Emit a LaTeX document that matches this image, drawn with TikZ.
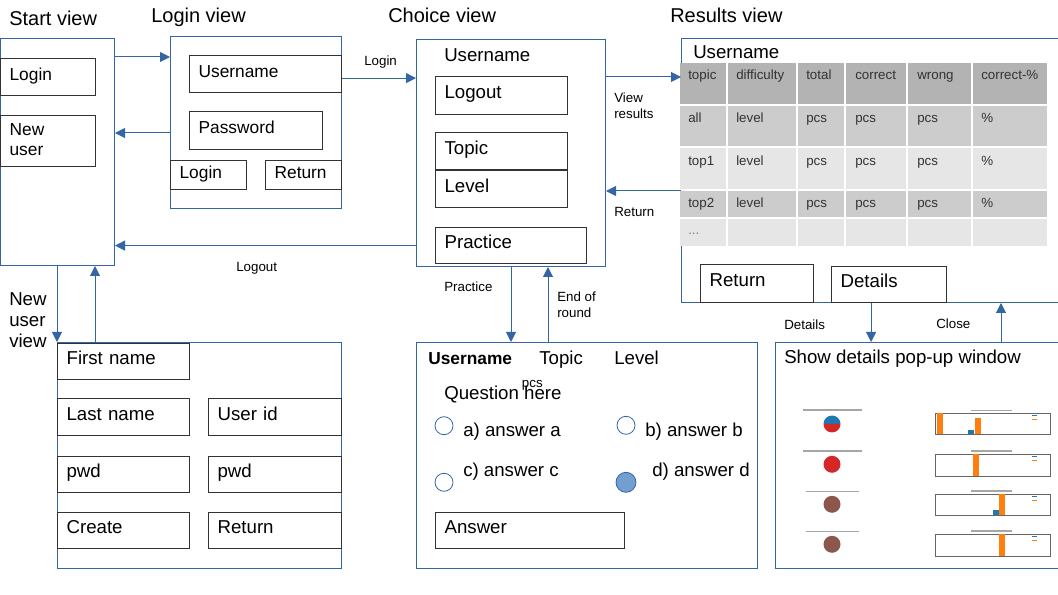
\documentclass[tikz,border=0pt]{standalone}
\usepackage{fontspec}
\setmainfont{Liberation Sans}
\usetikzlibrary{arrows.meta}
\newcommand{\px}{0.75pt}
\definecolor{viewblue}{HTML}{3465A4}
\definecolor{radiofill}{HTML}{729FCF}
\definecolor{headgray}{HTML}{B3B3B3}
\definecolor{rowgray}{HTML}{CCCCCC}
\definecolor{rowlight}{HTML}{E6E6E6}
\definecolor{pieblue}{HTML}{1F77B4}
\definecolor{piered}{HTML}{D62728}
\definecolor{piebrown}{HTML}{8C564B}
\definecolor{barorange}{HTML}{FF7F0E}

\tikzset{
  view/.style={draw=viewblue, line width=0.75pt, anchor=north west, inner sep=0pt},
  btn/.style 2 args={draw=black!80, line width=0.9pt, anchor=north west,
    inner xsep=9*\px, inner ysep=0pt, minimum width=#1*\px, minimum height=#2*\px,
    text width=#1*\px-18*\px, align=left, text height=10pt, text depth=5.5pt,
    font=\fontsize{14}{16}\selectfont},
  sbtn/.style 2 args={btn={#1}{#2}, font=\fontsize{13}{15}\selectfont},
  title/.style={anchor=base west, inner sep=0pt, font=\fontsize{15}{18}\selectfont},
  txt/.style={anchor=base west, inner sep=0pt, align=left, font=\fontsize{14}{16}\selectfont},
  lbl/.style={anchor=base west, inner sep=0pt, align=left, font=\fontsize{10}{12}\selectfont},
  cell/.style={anchor=base west, inner sep=0pt, text=black!80, font=\fontsize{10}{12}\selectfont},
  radio/.style={circle, draw=viewblue, line width=0.6pt, fill=white, minimum size=18*\px, inner sep=0pt},
  arr/.style={draw=viewblue, line width=0.75pt, -{Triangle[length=7.5pt, width=7.5pt]}},
  grid/.style={white, line width=1.5pt},
  ptitle/.style={black!35, line width=1.5*\px},
  axisline/.style={black!60, line width=0.4pt}
}

\begin{document}
\begin{tikzpicture}[x=\px, y=-\px]
    \useasboundingbox (0,0) rectangle (1058,595);
    \clip (0,0) rectangle (1058,595);

    % Start view
    \node[title] (t-start) at (9,26) {Start view};
    \node[view, minimum width=114*\px, minimum height=227*\px] (start) at (0,38) {};
    \node[sbtn={95}{37}] (s-login) at (0,58) {Login};
    \node[sbtn={95}{51}, text depth=18pt] (s-new) at (0,115) {New\\user};

    % Login view
    \node[title] (t-login) at (151,23) {Login view};
    \node[view, minimum width=171*\px, minimum height=172*\px] (loginv) at (170,36) {};
    \node[sbtn={152}{37}] (l-user) at (189,55) {Username};
    \node[sbtn={133}{38}] (l-pwd) at (189,111) {Password};
    \node[sbtn={76}{29}] (l-login) at (170,160) {Login};
    \node[sbtn={76}{29}] (l-return) at (265,160) {Return};

    % Choice view
    \node[title] (t-choice) at (388,23) {Choice view};
    \node[view, minimum width=189*\px, minimum height=227*\px] (choice) at (416,39) {};
    \node[txt] (c-user) at (444,61.7) {Username};
    \node[btn={132}{38}] (c-logout) at (435,76) {Logout};
    \node[btn={132}{37}] (c-topic) at (435,132) {Topic};
    \node[btn={132}{37}] (c-level) at (435,170) {Level};
    \node[btn={151}{36}] (c-practice) at (435,227) {Practice};

    % Results view
    \node[title] (t-results) at (670,23) {Results view};
    \node[view, minimum width=389*\px, minimum height=264*\px] (results) at (681,38) {};
    \node[txt] (r-user) at (693,59) {Username};
    \fill[headgray] (680,63) rectangle (1047,105);
    \fill[rowgray] (680,105) rectangle (1047,147);
    \fill[rowlight] (680,147) rectangle (1047,190);
    \fill[rowgray] (680,190) rectangle (1047,218);
    \fill[rowlight] (680,218) rectangle (1047,246);
    \draw[grid] (727,63) -- (727,246);
    \draw[grid] (797,63) -- (797,246);
    \draw[grid] (845,63) -- (845,246);
    \draw[grid] (907,63) -- (907,246);
    \draw[grid] (972,63) -- (972,246);
    \draw[grid] (680,105) -- (1047,105);
    \draw[grid] (680,147) -- (1047,147);
    \draw[grid] (680,190) -- (1047,190);
    \draw[grid] (680,218) -- (1047,218);

    % Table rows
    \node[cell] (cell-1-1) at (688,79.3) {topic};
    \node[cell] (cell-1-2) at (736,79.3) {difficulty};
    \node[cell] (cell-1-3) at (806,79.3) {total};
    \node[cell] (cell-1-4) at (855,79.3) {correct};
    \node[cell] (cell-1-5) at (917,79.3) {wrong};
    \node[cell] (cell-1-6) at (981,79.3) {correct-\%};

    \node[cell] (cell-2-1) at (688,122.3) {all};
    \node[cell] (cell-2-2) at (736,122.3) {level};
    \node[cell] (cell-2-3) at (806,122.3) {pcs};
    \node[cell] (cell-2-4) at (855,122.3) {pcs};
    \node[cell] (cell-2-5) at (917,122.3) {pcs};
    \node[cell] (cell-2-6) at (981,122.3) {\%};

    \node[cell] (cell-3-1) at (688,165.7) {top1};
    \node[cell] (cell-3-2) at (736,165.7) {level};
    \node[cell] (cell-3-3) at (806,165.7) {pcs};
    \node[cell] (cell-3-4) at (855,165.7) {pcs};
    \node[cell] (cell-3-5) at (917,165.7) {pcs};
    \node[cell] (cell-3-6) at (981,165.7) {\%};

    \node[cell] (cell-4-1) at (688,207.3) {top2};
    \node[cell] (cell-4-2) at (736,207.3) {level};
    \node[cell] (cell-4-3) at (806,207.3) {pcs};
    \node[cell] (cell-4-4) at (855,207.3) {pcs};
    \node[cell] (cell-4-5) at (917,207.3) {pcs};
    \node[cell] (cell-4-6) at (981,207.3) {\%};

    \node[cell, text=black!50] (cell-5-1) at (688,235) {...};

    \node[btn={113}{38}] (r-return) at (700,264) {Return};
    \node[btn={115}{36}] (r-details) at (831,266) {Details};

    % Show details pop-up window
    \node[view, minimum width=295*\px, minimum height=226*\px] (popup) at (775,342) {};
    \node[title, font=\fontsize{14}{16}\selectfont] (t-popup) at (784,363.3) {Show details pop-up window};

    % pies
    \draw[ptitle] (803,410) -- (862,410);
    \fill[pieblue] (840.5,424) arc[start angle=0, end angle=180, radius=8.5*\px] -- cycle;
    \fill[piered] (823.5,424) arc[start angle=180, end angle=360, radius=8.5*\px] -- cycle;
    \draw[ptitle] (803,451) -- (862,451);
    \fill[piered] (832,464.3) circle[radius=8.5*\px];
    \draw[ptitle] (806,491.7) -- (859,491.7);
    \fill[piebrown] (832,504.3) circle[radius=8.5*\px];
    \draw[ptitle] (806,531.7) -- (859,531.7);
    \fill[piebrown] (832,544.3) circle[radius=8.5*\px];

    % bar charts
    \draw[ptitle] (971,410.7) -- (1012,410.7);
    \draw[axisline] (935.7,413.3) rectangle (1050,434.3);
    \fill[barorange] (937.3,413.3) rectangle (943.3,434.3);
    \fill[pieblue] (968.3,430) rectangle (974.3,434.3);
    \fill[barorange] (975,418.3) rectangle (981,434.3);
    \fill[pieblue] (1032,415) rectangle (1037,416.5);
    \fill[barorange] (1032,418.7) rectangle (1037,420.2);

    \draw[ptitle] (971,451) -- (1012,451);
    \draw[axisline] (935.7,454.3) rectangle (1050,476);
    \fill[barorange] (973.3,454.3) rectangle (979.3,476);
    \fill[pieblue] (1032,456) rectangle (1037,457.5);
    \fill[barorange] (1032,459.7) rectangle (1037,461.2);

    \draw[ptitle] (971,491) -- (1012,491);
    \draw[axisline] (935.7,494) rectangle (1050,515);
    \fill[pieblue] (992.7,510) rectangle (998.7,515);
    \fill[barorange] (999,494) rectangle (1005.3,515);
    \fill[pieblue] (1032,496) rectangle (1037,497.5);
    \fill[barorange] (1032,499.7) rectangle (1037,501.2);

    \draw[ptitle] (971,531) -- (1012,531);
    \draw[axisline] (935.7,534.3) rectangle (1050,556);
    \fill[barorange] (999,534.3) rectangle (1005.3,556);
    \fill[pieblue] (1032,536) rectangle (1037,537.5);
    \fill[barorange] (1032,539.7) rectangle (1037,541.2);

    % New user view
    \node[txt, font=\fontsize{14}{15.75}\selectfont] (t-new) at (9,347.3) {New\\user\\view};
    \node[view, minimum width=284*\px, minimum height=226*\px] (newuser) at (57,342) {};
    \node[btn={132}{36}] (n-first) at (57,343) {First name};
    \node[btn={132}{37}] (n-last) at (57,398) {Last name};
    \node[btn={133}{37}] (n-id) at (208,398) {User id};
    \node[btn={132}{36}] (n-pwd1) at (57,456) {pwd};
    \node[btn={133}{36}] (n-pwd2) at (208,456) {pwd};
    \node[btn={132}{36}] (n-create) at (57,512) {Create};
    \node[btn={133}{36}] (n-return) at (208,512) {Return};

    % Question view
    \node[view, minimum width=341*\px, minimum height=226*\px] (quiz) at (416,342) {};
    \node[txt, font=\bfseries\fontsize{13}{15}\selectfont] (q-user) at (428,365) {Username};
    \node[txt] (q-topic) at (539,365) {Topic};
    \node[txt] (q-level) at (614,365) {Level};
    \node[lbl] (q-pcs) at (521.7,387.3) {pcs};
    \node[txt] (q-question) at (444,400) {Question here};
    \node[radio] (q-ra) at (444,425.7) {};
    \node[txt] (q-a) at (463,436.7) {a) answer a};
    \node[radio] (q-rb) at (626,425.3) {};
    \node[txt] (q-b) at (645,436.7) {b) answer b};
    \node[radio] (q-rc) at (444,482.3) {};
    \node[txt] (q-c) at (463,476.7) {c) answer c};
    \node[radio, fill=radiofill, minimum size=20*\px] (q-rd) at (626,482.3) {};
    \node[txt] (q-d) at (652,476.7) {d) answer d};
    \node[btn={189}{36}] (q-answer) at (435,512) {Answer};

    % Connectors
    \draw[arr] ([yshift=-19*\px]start.north east) -- ([yshift=-19*\px]start.north east -| loginv.west);
    \draw[arr] ([yshift=-97*\px]loginv.north west) -- ([yshift=-97*\px]loginv.north west -| start.east);
    \draw[arr] ([yshift=-4*\px]l-user.east) -- ([yshift=-4*\px]l-user.east -| choice.west);
    \node[lbl] (a-login) at (364,66) {Login};
    \draw[arr] (c-practice.west -| choice.west) -- (c-practice.west -| start.east);
    \node[lbl] (a-logout) at (236,271.7) {Logout};
    \draw[arr] ([yshift=-38*\px]choice.north east) -- ([yshift=-38*\px]choice.north east -| results.west);
    \node[lbl] (a-view) at (614,118.7) {View\\results};
    \draw[arr] ([yshift=-153*\px]results.north west) -- ([yshift=-153*\px]results.north west -| choice.east);
    \node[lbl] (a-return) at (614,216.7) {Return};
    \draw[arr] (start.south -| newuser.north west) -- (newuser.north west);
    \draw[arr] ([xshift=38*\px]newuser.north west) -- ([xshift=38*\px]newuser.north west |- start.south);
    \draw[arr] ([xshift=95*\px]quiz.north west |- choice.south) -- ([xshift=95*\px]quiz.north west);
    \draw[arr] ([xshift=132*\px]quiz.north west) -- ([xshift=132*\px]quiz.north west |- choice.south);
    \node[lbl] (a-practice) at (444,291.7) {Practice};
    \node[lbl] (a-end) at (557,317.3) {End of\\round};
    \draw[arr] ([xshift=-18*\px]r-details.south) -- ([xshift=-18*\px]r-details.south |- popup.north);
    \draw[arr] ([xshift=226*\px]popup.north west) -- ([xshift=226*\px]popup.north west |- results.south);
    \node[lbl] (a-details) at (784,329.3) {Details};
    \node[lbl] (a-close) at (936,329) {Close};

\end{tikzpicture}
\end{document}
